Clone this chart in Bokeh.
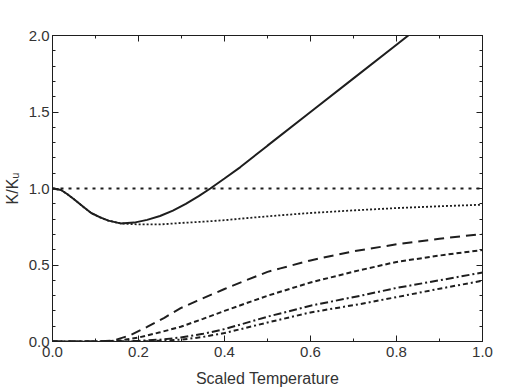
from bokeh.plotting import figure
from bokeh.models import Range1d, LinearAxis, FixedTicker, NumeralTickFormatter
from bokeh.embed import file_html
from bokeh.resources import INLINE

# ---- data ----
solid_x = [0.0, 0.02, 0.034, 0.05, 0.073, 0.09, 0.111, 0.13, 0.158, 0.19, 0.22, 0.25, 0.28, 0.31,
           0.34, 0.367, 0.40, 0.437, 0.50, 0.60, 0.70, 0.80, 0.85]
solid_y = [1.0, 0.99, 0.964, 0.93, 0.877, 0.84, 0.811, 0.79, 0.772, 0.777, 0.795, 0.82, 0.855, 0.90,
           0.95, 1.0, 1.065, 1.14, 1.28, 1.50, 1.72, 1.94, 2.05]

dot_x = [0.0, 0.02, 0.034, 0.05, 0.073, 0.09, 0.111, 0.13, 0.158, 0.2, 0.25, 0.3, 0.35, 0.4, 0.45,
         0.53, 0.6, 0.7, 0.8, 0.9, 1.0]
dot_y = [1.0, 0.99, 0.964, 0.93, 0.877, 0.84, 0.811, 0.79, 0.772, 0.765, 0.765, 0.775, 0.783, 0.793,
         0.806, 0.825, 0.84, 0.857, 0.872, 0.884, 0.894]

ref_x = [0.0, 1.0]
ref_y = [1.0, 1.0]

ldash_x = [0.0, 0.1, 0.14, 0.18, 0.22, 0.26, 0.298, 0.336, 0.4, 0.45, 0.5, 0.53, 0.6, 0.7, 0.8, 0.9, 1.0]
ldash_y = [0.0, 0.0, 0.005, 0.04, 0.095, 0.155, 0.218, 0.266, 0.343, 0.40, 0.455, 0.478, 0.53, 0.59,
           0.635, 0.672, 0.703]

sdash_x = [0.0, 0.12, 0.16, 0.2, 0.25, 0.298, 0.35, 0.4, 0.5, 0.6, 0.716, 0.8, 0.9, 1.0]
sdash_y = [0.0, 0.0, 0.008, 0.026, 0.06, 0.096, 0.148, 0.2, 0.299, 0.386, 0.467, 0.52, 0.562, 0.598]

dd_x = [0.0, 0.15, 0.2, 0.25, 0.298, 0.35, 0.4, 0.5, 0.6, 0.716, 0.8, 0.9, 1.0]
dd_y = [0.0, 0.0, 0.005, 0.012, 0.026, 0.05, 0.081, 0.162, 0.234, 0.299, 0.35, 0.40, 0.451]

ddd_x = [0.0, 0.2, 0.25, 0.3, 0.35, 0.4, 0.5, 0.6, 0.716, 0.8, 0.9, 1.0]
ddd_y = [0.0, 0.0, 0.005, 0.012, 0.03, 0.055, 0.124, 0.19, 0.245, 0.29, 0.345, 0.397]

x_major = [0.0, 0.2, 0.4, 0.6, 0.8, 1.0]
x_minor = [0.1, 0.3, 0.5, 0.7, 0.9]
y_major = [0.0, 0.5, 1.0, 1.5, 2.0]
y_minor = [0.1, 0.2, 0.3, 0.4, 0.6, 0.7, 0.8, 0.9, 1.1, 1.2, 1.3, 1.4, 1.6, 1.7, 1.8, 1.9]

FONT = "Liberation Sans"
INK = "#1e1e1e"
TXT = "#333333"

p = figure(width=518, height=392, output_backend="svg", toolbar_location=None,
           x_range=Range1d(0, 1), y_range=Range1d(0, 2),
           frame_width=430, frame_height=306,
           min_border_left=52, min_border_right=36, min_border_top=35, min_border_bottom=51)
p.xgrid.visible = False
p.ygrid.visible = False
p.outline_line_color = INK
p.outline_line_width = 1
p.background_fill_color = "white"
p.border_fill_color = "white"

def style_axis(ax, ticks, minor, show_labels=True):
    ax.ticker = FixedTicker(ticks=ticks, minor_ticks=minor)
    ax.formatter = NumeralTickFormatter(format="0.0")
    ax.major_tick_in = 6
    ax.major_tick_out = 0
    ax.minor_tick_in = 3
    ax.minor_tick_out = 0
    ax.axis_line_color = INK
    ax.major_tick_line_color = INK
    ax.minor_tick_line_color = INK
    ax.major_label_text_font = FONT
    ax.major_label_text_font_size = "15px"
    ax.major_label_text_color = TXT
    ax.major_label_standoff = 3
    ax.axis_label_text_font = FONT
    ax.axis_label_text_font_size = "16px"
    ax.axis_label_text_font_style = "normal"
    ax.axis_label_text_color = TXT
    if not show_labels:
        ax.major_label_overrides = {t: "" for t in ticks}

style_axis(p.xaxis[0], x_major, x_minor)
style_axis(p.yaxis[0], y_major, y_minor)
p.xaxis[0].major_label_standoff = 5
p.xaxis[0].axis_label = "Scaled Temperature"
p.xaxis[0].axis_label_standoff = 10
p.yaxis[0].axis_label = "K/Kᵤ"
p.yaxis[0].axis_label_standoff = 5

top = LinearAxis()
style_axis(top, x_major, x_minor, show_labels=False)
p.add_layout(top, "above")
right = LinearAxis()
style_axis(right, y_major, y_minor, show_labels=False)
p.add_layout(right, "right")

p.line(ref_x, ref_y, line_color=INK, line_width=2, line_dash="3 5")
p.line(dot_x, dot_y, line_color=INK, line_width=1.8, line_dash="2 2")
p.line(ldash_x, ldash_y, line_color=INK, line_width=2, line_dash="10 6")
p.line(sdash_x, sdash_y, line_color=INK, line_width=2, line_dash="5 3")
p.line(dd_x, dd_y, line_color=INK, line_width=2, line_dash="8 3 2 3")
p.line(ddd_x, ddd_y, line_color=INK, line_width=2, line_dash="5 3 2 3")
p.line(solid_x, solid_y, line_color=INK, line_width=2)

open("out.html", "w").write(file_html(p, INLINE))
